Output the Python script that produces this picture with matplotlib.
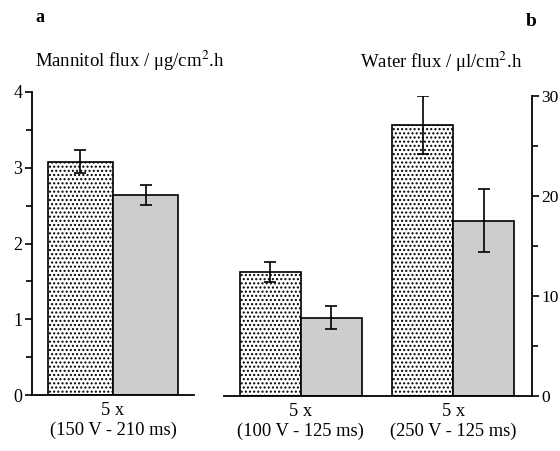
import numpy as np
import matplotlib
matplotlib.use("Agg")
import matplotlib.pyplot as plt
from matplotlib.ticker import MultipleLocator

plt.rcParams['font.family'] = ['Liberation Serif', 'DejaVu Serif']
plt.rcParams['mathtext.fontset'] = 'stix'
plt.rcParams['hatch.linewidth'] = 1.0

# panel a: mannitol flux
labels_a = ['5 x\n(150 V - 210 ms)']
mannitol_1 = [3.08]
mannitol_1_err = [0.15]
mannitol_2 = [2.64]
mannitol_2_err = [0.13]

# panel b: water flux
labels_b = ['5 x\n(100 V - 125 ms)', '5 x\n(250 V - 125 ms)']
water_1 = [12.4, 27.1]
water_1_err = [1.0, 2.9]
water_2 = [7.85, 17.55]
water_2_err = [1.15, 3.1]

fig = plt.figure(figsize=(5.6, 4.51), dpi=100)
W, H = 560, 451

ax_a = fig.add_axes([32 / W, 56 / H, 162 / W, 303 / H])
ax_b = fig.add_axes([224 / W, 55 / H, 308 / W, 300 / H])

dot_style = dict(facecolor='white', edgecolor='black', hatch='....', linewidth=1.2)
grey_style = dict(facecolor='#cdcdcd', edgecolor='black', linewidth=1.2)
err_style = dict(ecolor='black', elinewidth=1.2, capsize=4.5, capthick=1.2)


def draw(ax, centers, v1, e1, v2, e2):
    ax.bar(centers - 0.5, v1, width=1.0, zorder=2, **dot_style)
    ax.bar(centers + 0.5, v2, width=1.0, zorder=2, **grey_style)
    ax.errorbar(centers - 0.5, v1, yerr=e1, fmt='none', zorder=3, **err_style)
    ax.errorbar(centers + 0.5, v2, yerr=e2, fmt='none', zorder=3, **err_style)


xa = np.arange(len(labels_a)) * 1.0
draw(ax_a, xa, mannitol_1, mannitol_1_err, mannitol_2, mannitol_2_err)
ax_a.set_xlim(-1.246, 1.246)
ax_a.set_ylim(0, 4)
ax_a.yaxis.set_major_locator(MultipleLocator(1))
ax_a.yaxis.set_minor_locator(MultipleLocator(0.5))
ax_a.spines['top'].set_visible(False)
ax_a.spines['right'].set_visible(False)

xb = np.arange(len(labels_b)) * 2.5
draw(ax_b, xb, water_1, water_1_err, water_2, water_2_err)
ax_b.set_xlim(-1.262, 3.795)
ax_b.set_ylim(0, 30)
ax_b.yaxis.set_major_locator(MultipleLocator(10))
ax_b.yaxis.set_minor_locator(MultipleLocator(5))
ax_b.yaxis.tick_right()
ax_b.spines['top'].set_visible(False)
ax_b.spines['left'].set_visible(False)

for ax, x, labs in [(ax_a, xa, labels_a), (ax_b, xb, labels_b)]:
    ax.set_xticks(x)
    ax.set_xticklabels(labs, fontsize=13.3, linespacing=1.2)
    ax.tick_params(axis='x', length=0, pad=5)
    ax.tick_params(axis='y', which='major', length=5, width=1.2, labelsize=13, pad=2)
    ax.tick_params(axis='y', which='minor', length=4, width=1.2)
    for s in ax.spines.values():
        s.set_linewidth(1.3)
ax_b.tick_params(axis='y', labelsize=12.5, pad=1.5)

fig.text(35 / W, 1 - 17 / H, 'a', fontsize=13, fontweight='bold', va='center')
fig.text(526 / W, 1 - 22 / H, 'b', fontsize=14, fontweight='bold', va='center')
fig.text(35 / W, 1 - 61 / H, 'Mannitol flux / \u03bcg/cm$^{2}$.h', fontsize=13.5, va='center')
fig.text(360 / W, 1 - 62 / H, 'Water flux / \u03bcl/cm$^{2}$.h', fontsize=13.5, va='center')

fig.savefig('out.png', dpi=100)
